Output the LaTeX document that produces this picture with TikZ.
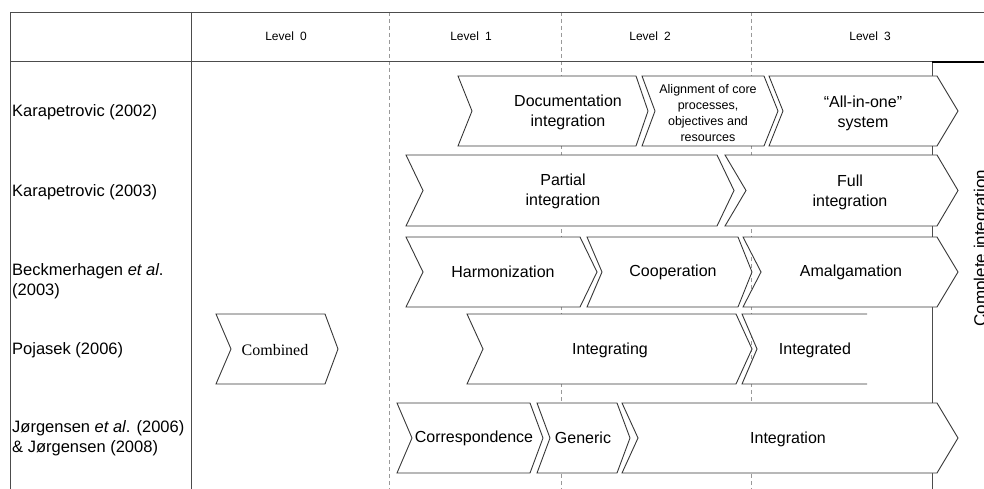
\documentclass[tikz,border=0pt]{standalone}
\usepackage{fontspec}
\setmainfont{Liberation Sans}
\newfontfamily\timesf{Liberation Serif}
\newcommand{\chevshape}[6]{%
  \draw[chev] (#1,#5) -- (#3,#5) -- (#4,{(#5+#6)/2}) -- (#3,#6) -- (#1,#6) -- (#2,{(#5+#6)/2}) -- cycle;}
\begin{document}
\begin{tikzpicture}[x=1pt,y=-1pt,
  chev/.style={draw=black!78,fill=white,line width=0.9pt,line join=miter},
  grid/.style={draw=black!70,line width=0.8pt},
  dgrid/.style={draw=black!40,line width=0.6pt,dash pattern=on 4pt off 3pt},
  lab/.style={anchor=west,inner sep=0pt,align=left,font=\fontsize{16.5}{20}\selectfont},
  txt/.style={inner sep=0pt,align=center,font=\fontsize{16}{20}\selectfont},
  lvl/.style={inner sep=0pt,font=\fontsize{12}{14}\selectfont},
  sml/.style={inner sep=0pt,align=center,font=\fontsize{12.5}{16}\selectfont}]
\useasboundingbox (0,0) rectangle (984,489);
% grid
\coordinate (tl) at (10,12); \coordinate (tr) at (984,12);
\coordinate (hl) at (10,61); \coordinate (hr) at (984,61);
\coordinate (bl) at (10,489);
\coordinate (c1t) at (191,12); \coordinate (c1b) at (191,489);
\draw[dgrid] (389,12) -- (389,489);
\draw[dgrid] (561,12) -- (561,489);
\draw[dgrid] (751,12) -- (751,489);
\draw[grid] (tr) -- (tl) -- (bl);
\draw[grid] (hl) -- (hr);
\draw[grid] (c1t) -- (c1b);
\coordinate (cit) at (932,62); \coordinate (cib) at (932,489); \coordinate (cir) at (984,62);
\draw[grid] (cit) -- (cib);
\draw[draw=black,line width=1.3pt] (cit) -- (cir);
% headers
\node[lvl] (l0) at (286,36) {Level\hspace{6pt}0};
\node[lvl] (l1) at (471,36) {Level\hspace{6pt}1};
\node[lvl] (l2) at (650,36) {Level\hspace{6pt}2};
\node[lvl] (l3) at (870,36) {Level\hspace{6pt}3};
% row labels
\node[lab] (r1) at (12,112) {Karapetrovic (2002)};
\node[lab] (r2) at (12,192) {Karapetrovic (2003)};
\node[lab] (r3) at (12,281) {Beckmerhagen \textit{et al}.\\(2003)};
\node[lab] (r4) at (12,350) {Pojasek (2006)};
\node[lab] (r5) at (12,438) {Jørgensen \textit{et al}. (2006)\\\& Jørgensen (2008)};
% row 1
\chevshape{458}{472}{636}{648}{76}{146}
\chevshape{642}{655}{764}{778}{76}{146}
\chevshape{769}{783}{937}{958}{76}{146}
% row 2
\chevshape{406}{423}{717}{734}{155}{226}
\chevshape{725}{746}{937}{958}{155}{226}
% row 3
\chevshape{406}{423}{580}{597}{237}{307}
\chevshape{587}{602}{738}{752}{237}{307}
\chevshape{743}{761}{937}{958}{237}{307}
% row 4
\chevshape{216}{231}{325}{338}{314}{384}
\chevshape{467}{483}{736}{752}{314}{384}
\draw[chev] (867,314) -- (742,314) -- (757,349) -- (742,384) -- (867,384);
% row 5
\chevshape{397}{412}{530}{543}{403}{473}
\chevshape{537}{550}{617}{630}{403}{473}
\chevshape{622}{638}{937}{958}{403}{473}
% texts
\node[txt] (doc) at (568,112) {Documentation\\integration};
\node[sml] (ali) at (708,113) {Alignment of core\\processes,\\objectives and\\resources};
\node[txt] (all) at (863,113) {“All-in-one”\\system};
\node[txt] (par) at (563,191) {Partial\\integration};
\node[txt] (ful) at (850,192) {Full\\integration};
\node[txt] (har) at (503,272) {Harmonization};
\node[txt] (coo) at (673,272) {Cooperation};
\node[txt] (ama) at (851,272) {Amalgamation};
\node[txt,font=\timesf\fontsize{16}{20}\selectfont] (com) at (275,350) {Combined};
\node[txt] (ing) at (610,350) {Integrating};
\node[txt] (ted) at (815,350) {Integrated};
\node[txt] (cor) at (474,438) {Correspondence};
\node[txt] (gen) at (583,438) {Generic};
\node[txt] (int) at (788,439) {Integration};
\node[txt,font=\fontsize{17}{20}\selectfont,rotate=90,anchor=base] (cpl) at (986,248) {Complete integration};
\end{tikzpicture}
\end{document}
